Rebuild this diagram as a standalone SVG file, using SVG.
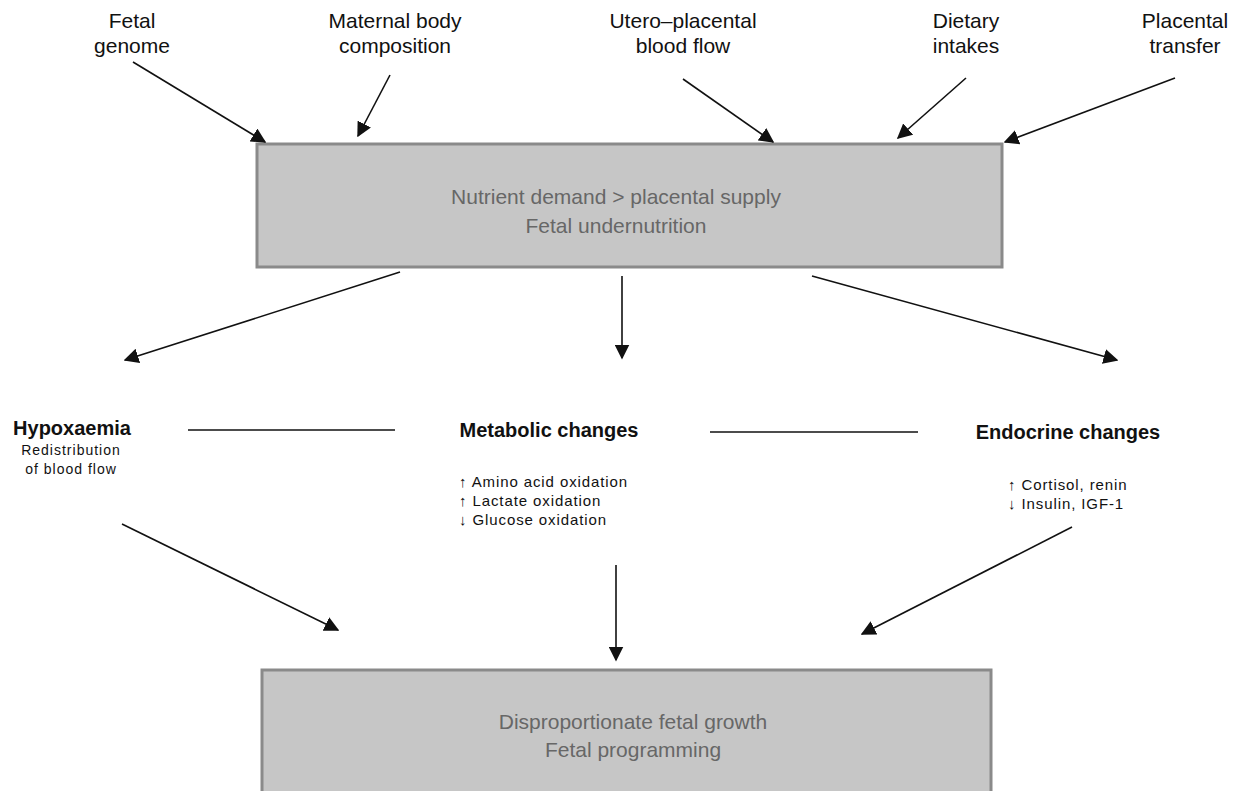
<svg xmlns="http://www.w3.org/2000/svg" width="1240" height="791" viewBox="0 0 1240 791">
<defs>
<marker id="ah" viewBox="0 0 10 10" refX="9" refY="5" markerWidth="15" markerHeight="15" markerUnits="userSpaceOnUse" orient="auto">
<path d="M0,0 L10,5 L0,10 Z" fill="#111"/>
</marker>
<style>
text{font-family:"Liberation Sans",Arial,sans-serif;fill:#111}
.lbl{font-size:21px;text-anchor:middle}
.box{fill:#c6c6c6;stroke:#8a8a8a;stroke-width:3}
.bt{font-size:21px;text-anchor:middle;fill:#676767}
.hd{font-size:20px;font-weight:bold;text-anchor:middle}
.sm{font-size:15px;letter-spacing:0.9px}
.smc{font-size:14px;letter-spacing:1px;text-anchor:middle}
.ln{stroke:#111;stroke-width:1.7;fill:none}
.ar{stroke:#111;stroke-width:1.6;fill:none;marker-end:url(#ah)}
</style>
</defs>
<rect width="1240" height="791" fill="#fff"/>
<g id="fetal-genome"><text class="lbl" x="132" y="28">Fetal</text><text class="lbl" x="132" y="53">genome</text></g>
<g id="maternal-body"><text class="lbl" x="395" y="28">Maternal body</text><text class="lbl" x="395" y="53">composition</text></g>
<g id="utero-placental"><text class="lbl" x="683" y="28">Utero–placental</text><text class="lbl" x="683" y="53">blood flow</text></g>
<g id="dietary"><text class="lbl" x="966" y="28">Dietary</text><text class="lbl" x="966" y="53">intakes</text></g>
<g id="placental-transfer"><text class="lbl" x="1185" y="28">Placental</text><text class="lbl" x="1185" y="53">transfer</text></g>
<g id="top-box"><rect class="box" x="257" y="144" width="745" height="123"/><text class="bt" x="616" y="204">Nutrient demand &gt; placental supply</text><text class="bt" x="616" y="233">Fetal undernutrition</text></g>
<g id="hypoxaemia"><text class="hd" x="72" y="435">Hypoxaemia</text><text class="smc" x="71" y="455">Redistribution</text><text class="smc" x="71" y="474">of blood flow</text></g>
<g id="metabolic"><text class="hd" x="549" y="437">Metabolic changes</text><text class="sm" x="459" y="487">↑ Amino acid oxidation</text><text class="sm" x="459" y="506">↑ Lactate oxidation</text><text class="sm" x="459" y="525">↓ Glucose oxidation</text></g>
<g id="endocrine"><text class="hd" x="1068" y="439">Endocrine changes</text><text class="sm" x="1008" y="490">↑ Cortisol, renin</text><text class="sm" x="1008" y="509">↓ Insulin, IGF-1</text></g>
<g id="bottom-box"><rect class="box" x="262" y="670" width="729" height="125"/><text class="bt" x="633" y="729">Disproportionate fetal growth</text><text class="bt" x="633" y="757">Fetal programming</text></g>
<g id="connectors">
<line class="ar" x1="133" y1="62" x2="265" y2="142"/>
<line class="ar" x1="390" y1="75" x2="358" y2="136"/>
<line class="ar" x1="683" y1="79" x2="773" y2="142"/>
<line class="ar" x1="966" y1="78" x2="898" y2="138"/>
<line class="ar" x1="1175" y1="78" x2="1005" y2="142"/>
<line class="ar" x1="400" y1="272" x2="125" y2="360"/>
<line class="ar" x1="622" y1="276" x2="622" y2="358"/>
<line class="ar" x1="812" y1="276" x2="1117" y2="360"/>
<line class="ln" x1="188" y1="430" x2="395" y2="430"/>
<line class="ln" x1="710" y1="432" x2="918" y2="432"/>
<line class="ar" x1="122" y1="524" x2="338" y2="630"/>
<line class="ar" x1="616" y1="565" x2="616" y2="660"/>
<line class="ar" x1="1072" y1="527" x2="862" y2="634"/>
</g>
</svg>
